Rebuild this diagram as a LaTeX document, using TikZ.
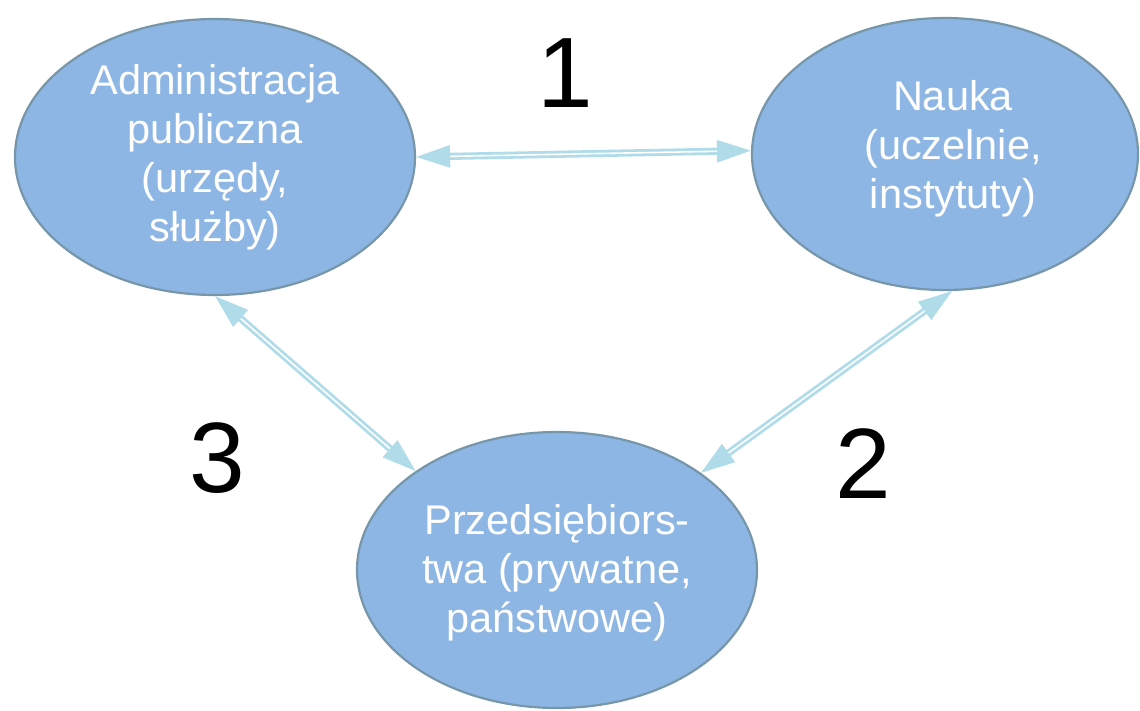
\documentclass[tikz,border=0pt]{standalone}
\usepackage{fontspec}
\setmainfont{Liberation Sans}
\usetikzlibrary{arrows.meta,shapes.geometric}
\definecolor{ellfill}{RGB}{142,182,228}
\definecolor{elldraw}{RGB}{118,150,170}
\definecolor{arrc}{RGB}{176,220,234}
\tikzset{
  ell/.style={ellipse, draw=elldraw, line width=2.2pt, fill=ellfill, inner sep=0pt},
  lbl/.style={text=white, align=center, font=\fontsize{41.5}{49}\selectfont},
  num/.style={anchor=base, font=\fontsize{100}{110}\selectfont},
  link/.style={draw=arrc, line width=2.8pt, double=white, double distance=1.6pt,
    {Triangle[length=34pt,width=22pt]}-{Triangle[length=34pt,width=22pt]}}
}
\begin{document}
\begin{tikzpicture}[x=1pt,y=-1pt]
\useasboundingbox (0,0) rectangle (1140,710);
\node[ell, minimum width=400pt, minimum height=276pt] (A) at (215,157) {};
\node[ell, minimum width=386pt, minimum height=272pt] (N) at (945,154) {};
\node[ell, minimum width=400pt, minimum height=276pt] (P) at (557,570) {};
\node[lbl] (At) at (215,157) {Administracja\\publiczna\\(urzędy,\\służby)};
\node[lbl] (Nt) at (953,149) {Nauka\\(uczelnie,\\instytuty)};
\node[lbl] (Pt) at (557,573) {Przedsiębiors-\\twa (prywatne,\\państwowe)};
\draw[link] (A.0) -- (N.179);
\draw[link] (A.270) -- (P.145.8);
\draw[link] (N.273) -- (P.34.8);
\node[num] (n1) at (565,107) {1};
\node[num] (n3) at (217,492) {3};
\node[num] (n2) at (863,498) {2};
\end{tikzpicture}
\end{document}
